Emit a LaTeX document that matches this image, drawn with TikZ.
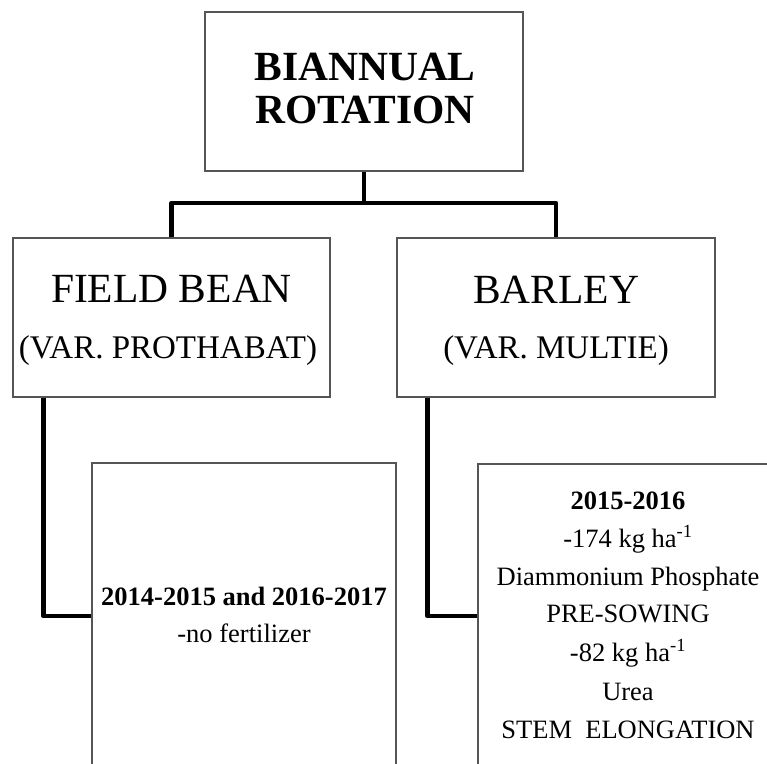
\documentclass[tikz,border=0pt]{standalone}
\usepackage{fontspec}
\setmainfont{Liberation Serif}
\definecolor{boxgray}{HTML}{555555}
\begin{document}
\begin{tikzpicture}[x=1pt,y=-1pt,
  box/.style={draw=boxgray, line width=1.3pt, fill=white, inner sep=0pt},
  conn/.style={line width=4.5pt, line join=round, draw=black},
  big/.style={font=\fontsize{41.5}{43}\selectfont, anchor=base, inner sep=0pt},
  bigb/.style={font=\fontsize{41.5}{43}\selectfont\bfseries, anchor=base, inner sep=0pt},
  mid/.style={font=\fontsize{33}{35}\selectfont, anchor=base, inner sep=0pt},
  small/.style={font=\fontsize{26.5}{28}\selectfont, anchor=base, inner sep=0pt},
  smallb/.style={font=\fontsize{26.5}{28}\selectfont\bfseries, anchor=base, inner sep=0pt}]
\useasboundingbox (0,0) rectangle (767,763);
\clip (0,0) rectangle (767,763);
\fill[white] (0,0) rectangle (767,763);
% boxes
\node[box, minimum width=318pt, minimum height=159pt] (top) at (364,91.5) {};
\node[box, minimum width=317pt, minimum height=159pt] (fb) at (171.5,317.5) {};
\node[box, minimum width=318pt, minimum height=159pt] (bar) at (556,317.5) {};
\node[box, minimum width=304pt, minimum height=337pt] (fbl) at (244,631.5) {};
\node[box, minimum width=300pt, minimum height=336pt] (bal) at (628,632) {};
% texts
\node[bigb] (t1) at (365,80) {BIANNUAL};
\node[bigb] (t2) at (365,123) {ROTATION};
\node[big] (t3) at (171.5,302) {FIELD BEAN};
\node[mid] (t4) at (168,358) {(VAR. PROTHABAT)};
\node[big] (t5) at (556,303) {BARLEY};
\node[mid] (t6) at (556,358) {(VAR. MULTIE)};
\node[smallb] (t7) at (244,605) {2014-2015 and 2016-2017};
\node[small] (t8) at (244,642) {-no fertilizer};
\node[smallb] (r1) at (628,509) {2015-2016};
\node[small] (r2) at (628,547) {-174 kg ha\textsuperscript{-1}};
\node[small] (r3) at (628,585) {Diammonium Phosphate};
\node[small] (r4) at (628,622) {PRE-SOWING};
\node[small] (r5) at (628,661) {-82 kg ha\textsuperscript{-1}};
\node[small] (r6) at (628,700) {Urea};
\node[small] (r7) at (628,738) {STEM\ \ ELONGATION};
% connectors
\coordinate (j) at (364,203);
\draw[conn] (top.south) -- (j);
\draw[conn] (fb.north) |- (j) -| (bar.north);
\draw[conn] ([xshift=31pt]fb.south west) |- ([yshift=15.5pt]fbl.west);
\draw[conn] ([xshift=31pt]bar.south west) |- ([yshift=16pt]bal.west);
\end{tikzpicture}
\end{document}
